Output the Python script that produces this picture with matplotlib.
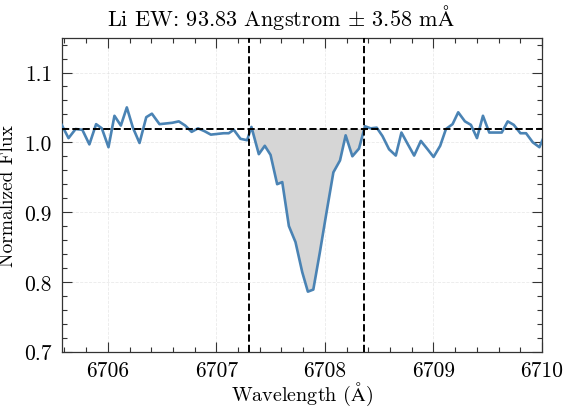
import matplotlib
matplotlib.use("Agg")
import matplotlib.pyplot as plt
import numpy as np
from matplotlib.ticker import AutoMinorLocator

plt.rcParams['font.family'] = ['cmr10', 'DejaVu Serif']
plt.rcParams['mathtext.fontset'] = 'cm'
plt.rcParams['axes.formatter.use_mathtext'] = True

wavelength = [6705.575, 6705.638, 6705.703, 6705.765, 6705.830, 6705.892, 6705.945,
              6706.006, 6706.061, 6706.120, 6706.175, 6706.231, 6706.292, 6706.354,
              6706.406, 6706.476, 6706.536, 6706.595, 6706.654, 6706.713, 6706.772,
              6706.831, 6706.890, 6706.949, 6707.008, 6707.067, 6707.114, 6707.160,
              6707.222, 6707.283, 6707.323, 6707.391, 6707.446, 6707.499, 6707.560,
              6707.607, 6707.668, 6707.729, 6707.791, 6707.843, 6707.893, 6707.953,
              6708.013, 6708.078, 6708.139, 6708.191, 6708.253, 6708.314, 6708.369,
              6708.422, 6708.477, 6708.530, 6708.591, 6708.653, 6708.705, 6708.761,
              6708.822, 6708.884, 6708.946, 6709.001, 6709.062, 6709.115, 6709.176,
              6709.228, 6709.290, 6709.345, 6709.401, 6709.456, 6709.514, 6709.576,
              6709.629, 6709.684, 6709.740, 6709.801, 6709.853, 6709.915, 6709.976,
              6710.029]
flux = [1.025, 1.006, 1.019, 1.018, 0.997, 1.026, 1.020,
        0.993, 1.038, 1.024, 1.050, 1.021, 0.999, 1.036,
        1.041, 1.026, 1.027, 1.028, 1.030, 1.024, 1.015,
        1.020, 1.016, 1.011, 1.012, 1.013, 1.013, 1.018,
        1.005, 1.003, 1.022, 0.983, 0.995, 0.982, 0.940,
        0.943, 0.880, 0.857, 0.814, 0.786, 0.789, 0.842,
        0.898, 0.957, 0.974, 1.010, 0.980, 0.991, 1.023,
        1.020, 1.021, 1.009, 0.990, 0.981, 1.014, 0.998,
        0.981, 1.002, 0.990, 0.979, 0.995, 1.019, 1.026,
        1.043, 1.030, 1.025, 1.006, 1.038, 1.014, 1.014,
        1.014, 1.030, 1.025, 1.013, 1.013, 1.000, 0.993,
        1.012]
continuum = 1.019
window = [6707.30, 6708.36]
x_limits = [6705.575, 6710.0]
y_limits = [0.7, 1.149]
x_ticks = [6706, 6707, 6708, 6709, 6710]
y_ticks = [0.7, 0.8, 0.9, 1.0, 1.1]

wl = np.array(wavelength)
fl = np.array(flux)

fig = plt.figure(figsize=(5.65, 4.1), dpi=100)
ax = fig.add_axes([0.1092, 0.1398, 0.8501, 0.7643])

ax.grid(True, which='major', color='#dddddd', ls='--', lw=0.6, alpha=0.6)
ax.set_axisbelow(True)

wl_f = np.concatenate([[window[0]], wl[(wl > window[0]) & (wl < window[1])], [window[1]]])
fl_f = np.interp(wl_f, wl, fl)
ax.fill_between(wl_f, fl_f, continuum, where=fl_f <= continuum, interpolate=True,
                color='#d6d6d6', lw=0, zorder=1)

ax.plot(wl, fl, color='#4a83b4', lw=1.9, zorder=3)
ax.axhline(continuum, color='black', ls='--', lw=1.4, zorder=4)
for w in window:
    ax.axvline(w, color='black', ls='--', lw=1.4, zorder=4)

ax.set_xlim(*x_limits)
ax.set_ylim(*y_limits)
ax.set_xticks(x_ticks)
ax.set_yticks(y_ticks)
ax.set_xticklabels([str(t) for t in x_ticks])
ax.set_yticklabels(['%.1f' % t for t in y_ticks])
ax.xaxis.set_minor_locator(AutoMinorLocator(5))
ax.yaxis.set_minor_locator(AutoMinorLocator(5))
ax.tick_params(which='both', direction='in', top=True, right=True, labelsize=15.5,
               color='#333333')
ax.tick_params(which='major', length=7, width=0.8, pad=7)
ax.tick_params(axis='x', which='major', pad=6)
ax.tick_params(which='minor', length=3.8, width=0.8)
for s in ax.spines.values():
    s.set_linewidth(0.9)
    s.set_color('#333333')

ax.set_xlabel(r'Wavelength ($\mathrm{\AA}$)', fontsize=14.5, labelpad=0)
ax.set_ylabel('Normalized Flux', fontsize=14, labelpad=5)
fig.suptitle(r'Li EW: 93.83 Angstrom $\pm$ 3.58 m$\mathrm{\AA}$', fontsize=16,
             x=0.497, y=0.957, va='center')

fig.savefig('out.png', dpi=100)
